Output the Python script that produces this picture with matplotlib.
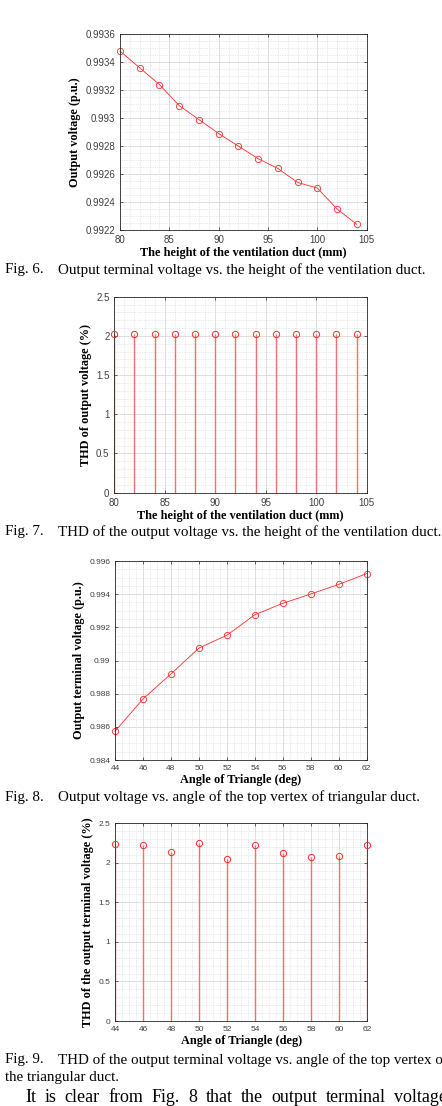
import matplotlib
matplotlib.use('Agg')
import matplotlib.pyplot as plt
from matplotlib.ticker import MultipleLocator, FormatStrFormatter

# data
height_mm = [80, 82, 84, 86, 88, 90, 92, 94, 96, 98, 100, 102, 104]
volt_height = [0.99348, 0.99336, 0.99324, 0.99309, 0.99299, 0.99289, 0.99280,
               0.99271, 0.99264, 0.99254, 0.99250, 0.99235, 0.99224]
thd_height = [2.03, 2.03, 2.03, 2.03, 2.03, 2.03, 2.03, 2.03, 2.03, 2.03, 2.03, 2.03, 2.03]

angle_deg = [44, 46, 48, 50, 52, 54, 56, 58, 60, 62]
volt_angle = [0.98573, 0.98768, 0.98919, 0.99075, 0.99152, 0.99276, 0.99345,
              0.99401, 0.99459, 0.99524]
thd_angle = [2.24, 2.23, 2.14, 2.25, 2.05, 2.22, 2.13, 2.08, 2.09, 2.22]

captions = ["Fig. 6.", "Fig. 7.", "Fig. 8.", "Fig. 9."]
caption_txt = ["Output terminal voltage vs. the height of the ventilation duct.",
               "THD of the output voltage vs. the height of the ventilation duct.",
               "Output voltage vs. angle of the top vertex of triangular duct.",
               "THD of the output terminal voltage vs. angle of the top vertex of"]
body_line = "It is clear from Fig. 8 that the output terminal voltage"

W, H = 442, 1106
fig = plt.figure(figsize=(W / 100, H / 100), dpi=100)

RED = '#ff2a2a'
STEM = '#f07070'
SERIF = ['Liberation Serif', 'DejaVu Serif']
SANS = ['Liberation Sans', 'DejaVu Sans']


def make_ax(l, r, t, b):
    return fig.add_axes([l / W, 1 - b / H, (r - l) / W, (b - t) / H])


def style(ax, xlab, ylab, tsize, xmaj, xmin, ymaj, ymin):
    ax.xaxis.set_major_locator(MultipleLocator(xmaj))
    ax.xaxis.set_minor_locator(MultipleLocator(xmin))
    ax.yaxis.set_major_locator(MultipleLocator(ymaj))
    ax.yaxis.set_minor_locator(MultipleLocator(ymin))
    ax.yaxis.set_major_formatter(FormatStrFormatter('%g'))
    ax.grid(which='major', color='#d9d9d9', lw=0.6)
    ax.grid(which='minor', color='#d6d6d6', lw=0.5, ls=(0, (1, 1.5)))
    ax.set_axisbelow(True)
    ax.tick_params(which='both', direction='in', top=True, right=True,
                   colors='#262626', labelsize=tsize, width=0.5, pad=3.5)
    ax.tick_params(which='major', length=2.5)
    ax.tick_params(which='minor', length=0)
    for lbl in ax.get_xticklabels() + ax.get_yticklabels():
        lbl.set_family(SANS)
        lbl.set_color('#404040')
    for s in ax.spines.values():
        s.set_color('#262626')
        s.set_linewidth(0.6)
    ax.set_xlabel(xlab, family=SERIF, weight='bold', fontsize=8.8, labelpad=1.5)
    ax.set_ylabel(ylab, family=SERIF, weight='bold', fontsize=8.8, labelpad=3)


def stem_plot(ax, x, y):
    ax.vlines(x, 0, y, color=STEM, lw=1.0, zorder=2)
    ax.plot(x, y, ls='none', marker='o', ms=4.5, mfc='none', mec=RED,
            mew=0.7, zorder=3, clip_on=False)


# Fig. 6
ax1 = make_ax(120, 366.7, 34.3, 230)
ax1.plot(height_mm, volt_height, color=RED, lw=0.6, marker='o', ms=4.5,
         mfc='none', mew=0.6, clip_on=False)
ax1.set_xlim(80, 105)
ax1.set_ylim(0.9922, 0.9936)
style(ax1, 'The height of the ventilation duct (mm)', 'Output voltage (p.u.)',
      7, 5, 1, 0.0002, 0.00005)

# Fig. 7
ax2 = make_ax(114.3, 366.7, 296.7, 492.7)
stem_plot(ax2, height_mm, thd_height)
ax2.set_xlim(80, 105)
ax2.set_ylim(0, 2.5)
style(ax2, 'The height of the ventilation duct (mm)', 'THD of output voltage (%)',
      7, 5, 1, 0.5, 0.1)

# Fig. 8
ax3 = make_ax(115, 366.7, 561, 760)
ax3.plot(angle_deg, volt_angle, color=RED, lw=0.6, marker='o', ms=4.5,
         mfc='none', mew=0.6, clip_on=False)
ax3.set_xlim(44, 62)
ax3.set_ylim(0.984, 0.996)
style(ax3, 'Angle of Triangle (deg)', 'Output terminal voltage (p.u.)',
      6, 2, 0.5, 0.002, 0.0005)

# Fig. 9
ax4 = make_ax(115, 367.3, 823.3, 1021)
stem_plot(ax4, angle_deg, thd_angle)
ax4.set_xlim(44, 62)
ax4.set_ylim(0, 2.5)
style(ax4, 'Angle of Triangle (deg)', 'THD of the output terminal voltage (%)',
      6, 2, 0.5, 0.5, 0.1)

# captions
cap_y = [270, 532, 797, 1060]
for lab, txt, y in zip(captions, caption_txt, cap_y):
    fig.text(5 / W, 1 - y / H, lab, family=SERIF, fontsize=10.8, va='center')
    fig.text(58 / W, 1 - y / H, txt, family=SERIF, fontsize=10.8, va='center')
fig.text(5 / W, 1 - 1077 / H, 'the triangular duct.', family=SERIF,
         fontsize=10.8, va='center')

# justified body line running off the right edge
words = body_line.split()
renderer = fig.canvas.get_renderer()
items = [fig.text(0, 1 - 1098 / H, w, family=SERIF, fontsize=13, va='center')
         for w in words]
widths = [t.get_window_extent(renderer).width for t in items]
x0, x1 = 25, 447
gap = (x1 - x0 - sum(widths)) / (len(words) - 1)
x = x0
for t, w in zip(items, widths):
    t.set_x(x / W)
    x += w + gap

fig.savefig('out.png', dpi=100)
